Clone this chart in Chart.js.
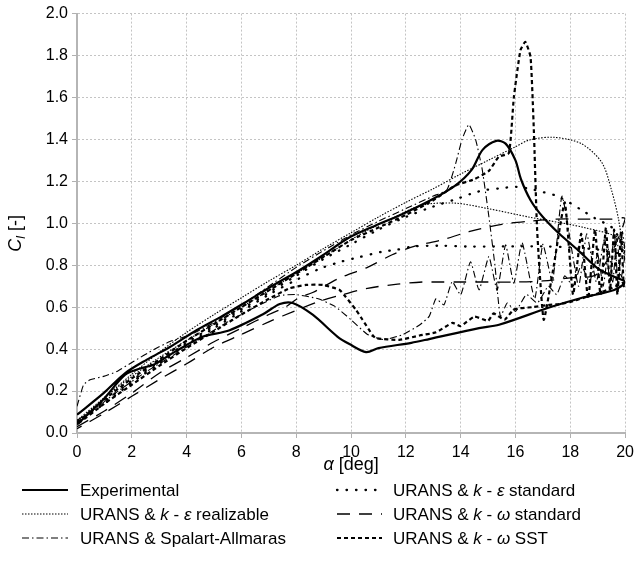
<!DOCTYPE html>
<html><head><meta charset="utf-8">
<script src="https://cdn.jsdelivr.net/npm/chart.js@4.4.1/dist/chart.umd.min.js"></script>
<style>html,body{margin:0;padding:0;background:#fff;}canvas{display:block;}</style>
</head><body>
<canvas id="c" width="639" height="565"></canvas>
<script>
// ---- tick labels ----
const xTickLabels = ['0','2','4','6','8','10','12','14','16','18','20'];
const yTickLabels = ['0.0','0.2','0.4','0.6','0.8','1.0','1.2','1.4','1.6','1.8','2.0'];

// ---- series labels ----
const labels = [
  'Experimental',
  'URANS & k - ε realizable',
  'URANS & Spalart-Allmaras',
  'URANS & k - ε standard',
  'URANS & k - ω standard',
  'URANS & k - ω SST'
];

// ---- Experimental (pitch-up then pitch-down) ----
const expAlpha = [0,0.97,1.76,2.55,3.39,4.36,5.2,6.1,7.1,8.1,9.0,9.9,10.9,11.8,12.9,13.8,14.4,14.8,15.3,15.64,16.0,16.2,16.55,17.0,17.6,18.3,19.0,19.6,20,
                  19.6,18.4,17.2,15.4,14.67,12.85,12.2,11.0,10.55,9.94,9.5,8.6,7.87,7.4,6.77,5.57,4.6,4.0,3.39,2.79,2.36,1.76,0.96,0];
const expCl    = [0.087,0.19,0.286,0.35,0.41,0.49,0.55,0.62,0.70,0.775,0.85,0.93,0.99,1.04,1.11,1.18,1.255,1.35,1.393,1.38,1.30,1.21,1.11,1.03,0.95,0.87,0.785,0.745,0.72,
                  0.682,0.644,0.597,0.516,0.50,0.448,0.43,0.405,0.386,0.424,0.46,0.564,0.62,0.615,0.565,0.49,0.46,0.42,0.373,0.325,0.31,0.278,0.16,0.04];

// ---- URANS k-epsilon realizable ----
const rkeAlpha = [0,1,2,3,4,5,6,7,8,9,10,11,12,13,14,15,16,16.5,17.4,18.4,19.15,19.5,19.76,19.9,20,
                  19.9,18.5,16.48,15,13.8,12.6,11.6,10.5,9,7,5,3,1.5,0];
const rkeCl    = [0.06,0.17,0.28,0.385,0.48,0.565,0.645,0.725,0.80,0.88,0.955,1.03,1.10,1.165,1.235,1.30,1.365,1.397,1.41,1.38,1.29,1.16,1.02,0.9,0.82,
                  0.92,0.98,1.03,1.07,1.096,1.087,1.03,0.96,0.84,0.68,0.52,0.36,0.22,0.05];

// ---- URANS Spalart-Allmaras ----
const saAlpha = [0,0.24,0.48,0.97,1.45,2.06,2.79,3.39,4.12,4.85,6,7,8,9,10,11,12,13,13.5,13.82,14.05,14.3,14.55,14.79,15.03,15.25,15.45,
                 15.7,16.0,16.4,16.8,17.2,17.5,17.8,18.1,18.4,18.7,19.0,19.2,19.4,19.55,19.7,19.85,20,
                 19.9,19.75,19.6,19.45,19.25,18.95,18.6,18.3,17.7,17.35,17.0,16.7,16.24,15.94,15.64,15.33,15.03,14.67,14.36,14.0,13.69,13.39,13.1,12.85,12.5,11.9,11.2,10.6,10.0,9.4,8.8,8.0,7.4,6.5,5.5,4.5,3.5,2.5,1.5,0.7,0];
const saCl    = [0.127,0.23,0.254,0.27,0.293,0.341,0.397,0.436,0.468,0.516,0.61,0.70,0.79,0.87,0.945,1.01,1.07,1.13,1.16,1.286,1.40,1.471,1.397,1.254,1.031,0.80,0.555,
                 0.62,0.58,0.66,0.62,0.70,0.66,0.75,0.70,0.80,0.72,0.85,0.70,0.88,0.72,0.93,0.74,0.86,
                 0.96,0.70,0.97,0.72,0.93,0.72,0.95,0.70,1.13,0.72,0.90,0.64,0.908,0.714,0.897,0.68,0.841,0.682,0.817,0.659,0.722,0.611,0.64,0.556,0.515,0.47,0.445,0.47,0.54,0.605,0.64,0.66,0.655,0.60,0.53,0.45,0.37,0.29,0.20,0.12,0.06];

// ---- URANS k-epsilon standard ----
const kesAlpha = [0,1,2,3,4,5,6,7,8,9,10,11,12,13,13.94,14.42,14.9,15.45,16.0,16.5,17.03,17.57,18.42,18.9,19.27,19.6,20,
                  19,18,17,16,14.9,14.3,13.21,12.24,11.64,11.15,10.12,9.64,8.89,8.0,7,6,5,4,3,2,1,0];
const kesCl    = [0.05,0.15,0.25,0.34,0.43,0.51,0.59,0.67,0.75,0.83,0.90,0.97,1.03,1.08,1.12,1.143,1.159,1.167,1.174,1.165,1.148,1.127,1.063,1.024,1.0,0.97,0.86,
                  0.875,0.885,0.89,0.89,0.889,0.889,0.893,0.889,0.873,0.865,0.833,0.817,0.785,0.73,0.66,0.58,0.50,0.42,0.33,0.24,0.14,0.05];

// ---- URANS k-omega standard ----
const kwsAlpha = [0,1,2,3,4,5,6,7,7.6,8.1,8.6,9.6,10.6,11.5,12.3,13.3,14.3,15.5,16.5,17.5,18.5,19.5,20,
                  19,18,17,16,15,14,13,12.6,11.7,10.6,9.7,8.9,8.0,7.0,6.0,5.0,4.0,3.0,2.0,1.0,0];
const kwsCl    = [0.03,0.105,0.19,0.285,0.36,0.435,0.50,0.565,0.60,0.645,0.67,0.74,0.79,0.85,0.89,0.92,0.96,0.995,1.01,1.02,1.02,1.02,1.02,
                  0.76,0.74,0.725,0.72,0.72,0.72,0.72,0.72,0.71,0.69,0.66,0.63,0.585,0.53,0.47,0.41,0.33,0.255,0.175,0.095,0.02];

// ---- URANS k-omega SST ----
const sstAlpha = [0,1,2,3,4,5,6,7,8,9,10,11,12,13,13.8,14.5,15.03,15.39,15.76,15.94,16.18,16.36,16.55,16.67,16.79,17.03,17.4,17.8,18.1,18.4,18.65,18.9,19.1,19.3,19.45,19.6,19.72,19.85,19.95,20,
                  19.5,19,18.5,18,17.6,17.2,16.6,15.95,15.6,15.2,15.0,14.5,14.0,13.7,13.1,12.5,11.76,10.9,10.78,10.42,10.18,9.8,9.57,8.97,8.36,7.76,7,6,5,4,3,2,1,0];
const sstCl    = [0.05,0.16,0.26,0.35,0.44,0.52,0.60,0.68,0.76,0.84,0.92,0.98,1.04,1.11,1.18,1.21,1.25,1.317,1.335,1.60,1.825,1.865,1.793,1.444,0.968,0.54,0.80,1.10,0.66,0.95,0.64,0.97,0.66,0.98,0.68,0.97,0.66,0.96,0.70,0.72,
                  0.69,0.665,0.645,0.625,0.615,0.61,0.60,0.59,0.54,0.57,0.535,0.555,0.51,0.525,0.48,0.465,0.444,0.452,0.468,0.54,0.587,0.65,0.683,0.706,0.706,0.69,0.64,0.565,0.485,0.405,0.32,0.23,0.14,0.04];

const FONT = '"Liberation Sans", Arial, sans-serif';
function pts(a, c){ return a.map((v,i)=>({x:v, y:c[i]})); }

const series = [
  {label:labels[0], a:expAlpha, c:expCl, dash:[], w:2.2, cap:'butt', t:0.3},
  {label:labels[1], a:rkeAlpha, c:rkeCl, dash:[1.5,1.5], w:1.1, cap:'butt', t:0.3},
  {label:labels[2], a:saAlpha, c:saCl, dash:[7,3,1.5,3], w:1.1, cap:'butt', t:0.15},
  {label:labels[3], a:kesAlpha, c:kesCl, dash:[0.5,9], w:2.3, cap:'round', t:0.3},
  {label:labels[4], a:kwsAlpha, c:kwsCl, dash:[13,9], w:1.3, cap:'butt', t:0.3},
  {label:labels[5], a:sstAlpha, c:sstCl, dash:[4,3], w:2.2, cap:'butt', t:0.15}
];

const datasets = series.map(s => ({
  label: s.label, data: pts(s.a, s.c), showLine: true, fill: false,
  borderColor: '#000', backgroundColor: '#000', borderWidth: s.w,
  borderDash: s.dash, borderCapStyle: s.cap, pointRadius: 0, pointHoverRadius: 0, tension: s.t
}));

function drawRuns(ctx, runs, x, y, align){
  let total = 0;
  runs.forEach(r => { ctx.font = r[1]; total += ctx.measureText(r[0]).width; });
  let cx = align === 'center' ? x - total/2 : x;
  runs.forEach(r => { ctx.font = r[1]; ctx.fillText(r[0], cx, y + (r[2]||0)); cx += ctx.measureText(r[0]).width; });
}
function labelRuns(txt, size){
  const toks = txt.split(' ');
  const runs = [];
  toks.forEach((t,i) => {
    const it = (t === 'k' || t === 'ε' || t === 'ω');
    runs.push([t + (i < toks.length-1 ? ' ' : ''), (it ? 'italic ' : '') + size + 'px ' + FONT]);
  });
  return runs;
}

const decor = {
  id: 'decor',
  afterDraw(chart){
    const ctx = chart.ctx, a = chart.chartArea;
    ctx.save();
    ctx.fillStyle = '#000';
    ctx.textBaseline = 'alphabetic';
    // x title
    drawRuns(ctx, [['α','italic 18px '+FONT],[' [deg]','18px '+FONT]], (a.left+a.right)/2, 470, 'center');
    // y title
    ctx.save();
    ctx.translate(21, (a.top+a.bottom)/2 + 10);
    ctx.rotate(-Math.PI/2);
    drawRuns(ctx, [['C','italic 18px '+FONT],['l','italic 12px '+FONT,4],[' [-]','18px '+FONT]], 0, 0, 'center');
    ctx.restore();
    // legend (two columns)
    const rows = [490, 514, 538];
    const cols = [{x0:22, x1:68, tx:80}, {x0:337, x1:382, tx:393}];
    const order = [[0,1,2],[3,4,5]];
    order.forEach((col, ci) => {
      col.forEach((di, ri) => {
        const s = series[di], y = rows[ri], c = cols[ci];
        ctx.save();
        ctx.strokeStyle = '#000'; ctx.lineWidth = s.w; ctx.lineCap = s.cap;
        ctx.setLineDash(s.dash);
        ctx.beginPath(); ctx.moveTo(c.x0, y); ctx.lineTo(c.x1, y); ctx.stroke();
        ctx.restore();
        ctx.textBaseline = 'middle';
        drawRuns(ctx, labelRuns(s.label, 17), c.tx, y + 1, 'left');
      });
    });
    ctx.restore();
  }
};

new Chart(document.getElementById('c'), {
  type: 'scatter',
  data: { datasets },
  options: {
    responsive: false, animation: false, devicePixelRatio: 1,
    layout: { padding: { left: 0, right: 12, top: 13, bottom: 0 } },
    plugins: { legend: { display: false }, tooltip: { enabled: false } },
    scales: {
      x: {
        type: 'linear', min: 0, max: 20,
        ticks: { stepSize: 2, color: '#000', font: { family: FONT, size: 16 }, padding: 5, maxRotation: 0,
                 callback: (v) => xTickLabels[Math.round(v/2)] },
        grid: { color: '#c4c4c4', lineWidth: 1, tickLength: 5, tickColor: '#b0b0b0' },
        border: { display: true, color: '#b5b5b5', width: 2, dash: [2,2] },
        afterFit: (s) => { s.height = 132; }
      },
      y: {
        type: 'linear', min: 0, max: 2,
        ticks: { stepSize: 0.2, color: '#000', font: { family: FONT, size: 16 }, padding: 4,
                 callback: (v) => yTickLabels[Math.round(v*5)] },
        grid: { color: '#c4c4c4', lineWidth: 1, tickLength: 5, tickColor: '#b0b0b0' },
        border: { display: true, color: '#b5b5b5', width: 2, dash: [2,2] },
        afterFit: (s) => { s.width = 77; }
      }
    }
  },
  plugins: [decor]
});
</script>
</body></html>
